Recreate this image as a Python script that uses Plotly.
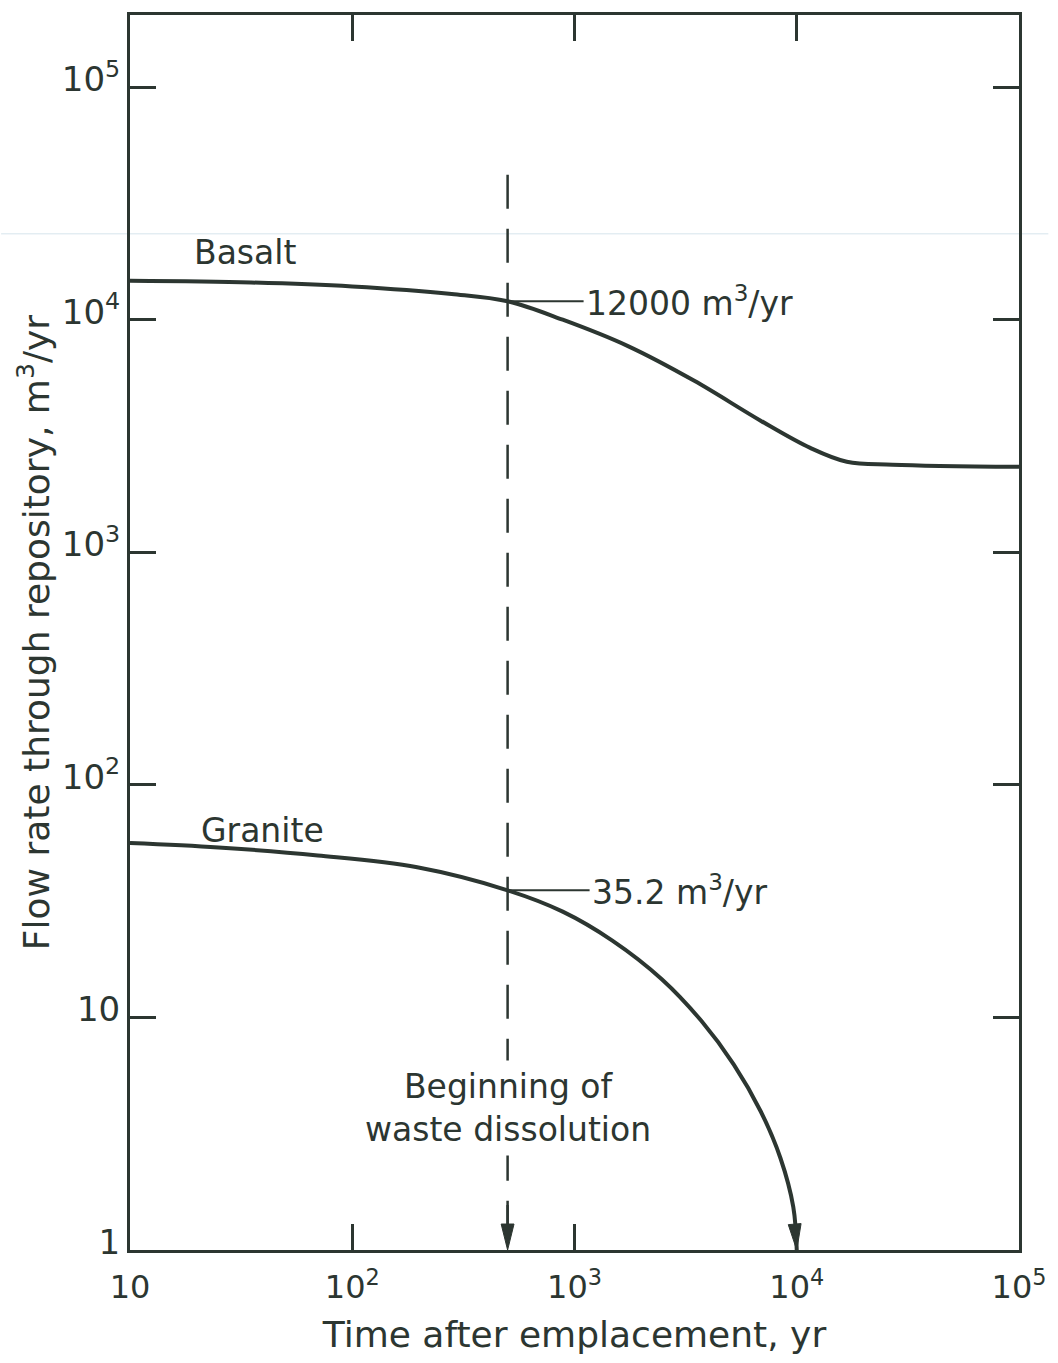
import numpy as np
import plotly.graph_objects as go

# Flow rate through the repository (m^3/yr) versus time after emplacement (yr)
basalt_t = [10, 35, 100, 280, 500, 885, 1740, 3460, 6880, 11500, 16800, 27000, 100000]
basalt_q = [14700, 14450, 13900, 12900, 12000, 10000, 7700, 5460, 3680, 2810, 2450, 2380, 2330]

granite_t = [10, 25, 70, 196, 500, 885, 1480, 2470, 3720, 5210, 6880, 8450, 9650, 10000]
granite_q = [56.2, 53.8, 49.7, 44.2, 35.2, 28.5, 21.4, 14.6, 9.67, 6.27, 3.95, 2.48, 1.53, 1.0]

# Beginning of waste dissolution and the flow rates read at that time
dissolution_t = 500
dissolution_top = 42000
basalt_at_dissolution = 12000
granite_at_dissolution = 35.2

x_tickvals = [10, 100, 1000, 10000, 100000]
x_ticktext = ["10", "10<sup>2</sup>", "10<sup>3</sup>", "10<sup>4</sup>", "10<sup>5</sup>"]
y_tickvals = [1, 10, 100, 1000, 10000, 100000]
y_ticktext = ["1", "10", "10<sup>2</sup>", "10<sup>3</sup>", "10<sup>4</sup>", "10<sup>5</sup>"]

INK = "#2c3631"
FONT = "DejaVu Sans"

W, H = 1058, 1363
M = dict(l=130, r=29, t=14, b=113)
X_RANGE = [1, 5]
Y_RANGE = [0, 5.31]
px_per_dec_x = (W - M["l"] - M["r"]) / (X_RANGE[1] - X_RANGE[0])
px_per_dec_y = (H - M["t"] - M["b"]) / (Y_RANGE[1] - Y_RANGE[0])


def arrow_head(tip, prev, length=26, half_width=6.5):
    """Filled arrowhead polygon (data coords) pointing from prev to tip."""
    tx, ty = np.log10(tip[0]), np.log10(tip[1])
    px, py = np.log10(prev[0]), np.log10(prev[1])
    dx, dy = (tx - px) * px_per_dec_x, (ty - py) * px_per_dec_y
    n = np.hypot(dx, dy)
    ux, uy = dx / n, dy / n
    bx, by = -ux * length, -uy * length
    vx, vy = -uy * half_width, ux * half_width
    pts = [(0, 0), (bx + vx, by + vy), (bx - vx, by - vy), (0, 0)]
    xs = [10 ** (tx + a / px_per_dec_x) for a, _ in pts]
    ys = [10 ** (ty + b / px_per_dec_y) for _, b in pts]
    return xs, ys


fig = go.Figure()

line_style = dict(color=INK, width=4, shape="spline", smoothing=1.0)

fig.add_trace(go.Scatter(x=basalt_t, y=basalt_q, mode="lines", line=line_style,
                         hoverinfo="skip"))
fig.add_trace(go.Scatter(x=granite_t, y=granite_q, mode="lines", line=line_style,
                         hoverinfo="skip"))

# dashed marker for the start of dissolution
fig.add_trace(go.Scatter(x=[dissolution_t, dissolution_t], y=[dissolution_top, 1],
                         mode="lines", line=dict(color=INK, width=2.5, dash="34px,20px"),
                         hoverinfo="skip"))
stub_top = 10 ** (45 / px_per_dec_y)
fig.add_trace(go.Scatter(x=[dissolution_t, dissolution_t], y=[stub_top, 1.05],
                         mode="lines", line=dict(color=INK, width=2.5),
                         hoverinfo="skip"))

for tip, prev in [((dissolution_t, 1), (dissolution_t, 10)),
                  ((granite_t[-1], granite_q[-1]), (granite_t[-2], granite_q[-2]))]:
    hx, hy = arrow_head(tip, prev)
    fig.add_trace(go.Scatter(x=hx, y=hy, mode="lines", fill="toself",
                             fillcolor=INK, line=dict(color=INK, width=1),
                             hoverinfo="skip"))

txt = dict(family=FONT, size=33, color=INK)

fig.add_annotation(x=np.log10(dissolution_t), y=np.log10(basalt_at_dissolution),
                   text="12000 m<sup>3</sup>/yr", showarrow=True, arrowhead=0,
                   arrowwidth=2, arrowcolor=INK, ax=76, ay=0, xanchor="left",
                   standoff=0, font=txt)
fig.add_annotation(x=np.log10(dissolution_t), y=np.log10(granite_at_dissolution),
                   text="35.2 m<sup>3</sup>/yr", showarrow=True, arrowhead=0,
                   arrowwidth=2, arrowcolor=INK, ax=82, ay=0, xanchor="left",
                   standoff=0, font=txt)

fig.add_annotation(x=1.516, y=4.29, text="Basalt", showarrow=False, font=txt)
fig.add_annotation(x=1.598, y=1.805, text="Granite", showarrow=False, font=txt)
fig.add_annotation(x=np.log10(dissolution_t), y=0.61,
                   text="Beginning of<br>waste dissolution", showarrow=False,
                   font=txt, bgcolor="white", borderpad=6)

# faint horizontal scan streak across the sheet
fig.add_shape(type="line", xref="paper", yref="paper", x0=-0.145, x1=1.033,
              y0=0.8228, y1=0.8228, line=dict(color="#d6e4ec", width=1), layer="below")

axis_common = dict(
    showline=True, linecolor=INK, linewidth=3, mirror="ticks",
    ticks="inside", ticklen=26, tickwidth=2.5, tickcolor=INK,
    showgrid=False, zeroline=False, ticklabeloverflow="allow",
)

fig.update_xaxes(type="log", range=X_RANGE, tickvals=x_tickvals, ticktext=x_ticktext,
                 tickfont=dict(family=FONT, size=32, color=INK), ticklabelstandoff=7,
                 title=dict(text="Time after emplacement, yr",
                            font=dict(family=FONT, size=36, color=INK), standoff=17),
                 **axis_common)
fig.update_yaxes(type="log", range=Y_RANGE, tickvals=y_tickvals, ticktext=y_ticktext,
                 tickfont=dict(family=FONT, size=34, color=INK), ticklabelshift=-8,
                 title=dict(text="Flow rate through repository, m<sup>3</sup>/yr",
                            font=dict(family=FONT, size=36, color=INK), standoff=2),
                 **axis_common)

fig.update_layout(width=W, height=H, margin=M, showlegend=False,
                  paper_bgcolor="white", plot_bgcolor="white")

fig.write_html("out.html")
